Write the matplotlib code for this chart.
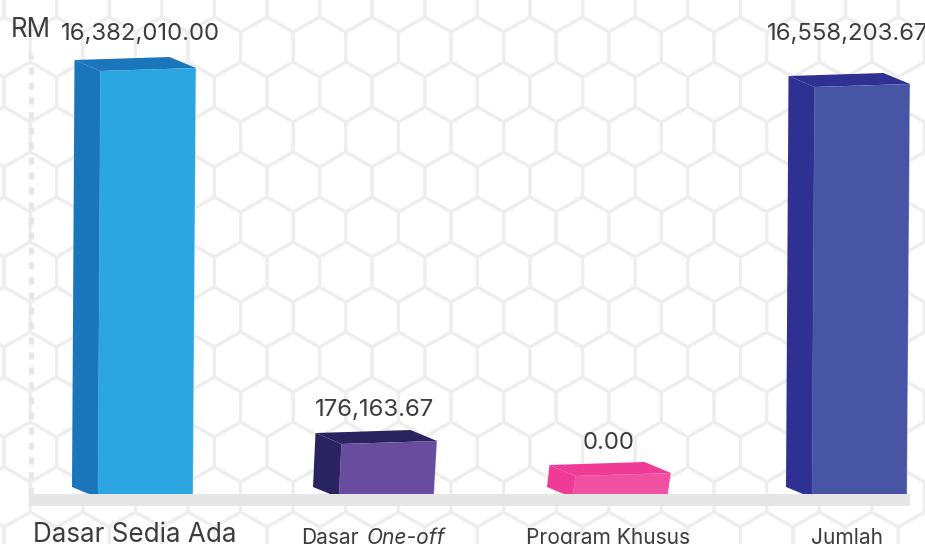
import numpy as np
import matplotlib
matplotlib.use("Agg")
import matplotlib.pyplot as plt
from matplotlib.patches import Polygon, Rectangle
from matplotlib.collections import LineCollection

# ---- data ----
categories = ["Dasar Sedia Ada", "Dasar One-off", "Program Khusus", "Jumlah"]
value_labels = ["16,382,010.00", "176,163.67", "0.00", "16,558,203.67"]
bar_heights = [423, 50, 18, 407]          # drawn front-face height (the original is not to scale)
unit_label = "RM"

front_colors = ["#2ba6e0", "#684d9f", "#f250a0", "#4854a4"]
dark_colors = ["#1a75bb", "#29235f", "#ef3a96", "#2e3192"]

# ---- layout (pixels) ----
W, H, BASE = 925, 544, 494
bar_left = [98, 339, 573, 812]
FW = 95
FONT = "Inter"
TXT = "#3c3c3c"

fig = plt.figure(figsize=(W / 100, H / 100), dpi=100, facecolor="white")
ax = fig.add_axes([0, 0, 1, 1])
ax.set_xlim(0, W)
ax.set_ylim(BASE - H, BASE)
ax.axis("off")

def py(p):
    return BASE - p

# hexagon background
hw, side, rise, pitch = 26.3, 30, 15, 45
segs = []
for j in range(-1, 14):
    cy = 92 + pitch * (j - 1)
    off = 30.3 if j % 2 == 1 else 3.9
    for k in range(-1, 19):
        cx = off + 2 * hw * k
        v = [(cx - hw, cy - side / 2), (cx, cy - side / 2 - rise), (cx + hw, cy - side / 2),
             (cx + hw, cy + side / 2), (cx, cy + side / 2 + rise), (cx - hw, cy + side / 2)]
        v = [(a, py(b)) for a, b in v]
        segs.append(v + [v[0]])
ax.add_collection(LineCollection(segs, colors="#eeeeee", linewidths=2.2, zorder=1))

# baseline band and dotted axis
ax.add_patch(Rectangle((30, py(506)), 880, 12, fc="#e6e6e6", ec="none", zorder=2))
ax.plot([30.5, 30.5], [0, py(55)], color="#e6e6e6", lw=3.6, ls=(0, (1.4, 1.6)), zorder=2, solid_capstyle="butt")

# bars
for x, h, fc, dc in zip(bar_left, bar_heights, front_colors, dark_colors):
    top = h
    tx = x + 2 + 0.5  # top of the front face leans right
    side_poly = [(x - 26, -0.0 + 7), (x - 9, 0), (x, 0), (tx, top), (tx - 26, top + 11)]
    top_poly = [(tx, top), (tx - 26, top + 11), (tx + 69, top + 14), (tx + FW + 0.5, top + 3)]
    front = [(x, 0), (x + FW, 0), (tx + FW + 0.5, top + 3), (tx, top)]
    ax.add_patch(Polygon(side_poly, fc=dc, ec="none", zorder=3))
    ax.add_patch(Polygon(top_poly, fc=dc, ec="none", zorder=3))
    ax.add_patch(Polygon(front, fc=fc, ec="none", zorder=4))
    ax.plot([x, tx], [0, top], color=fc, lw=0.6, alpha=.6, zorder=5)
    ax.plot([x + FW, tx + FW + 0.5], [0, top + 3], color="white", lw=0.6, alpha=.45, zorder=5)

def txt(x, p, s, px, ha="left", **kw):
    return ax.text(x, py(p), s, fontsize=px * 0.72, ha=ha, va="baseline", color=TXT,
                   family=FONT, zorder=6, **kw)

txt(11, 37, unit_label, 26)
txt(140.5, 40, value_labels[0], 24, ha="center")
txt(374.5, 416, value_labels[1], 24, ha="center")
txt(609, 449, value_labels[2], 24, ha="center")
txt(848, 40, value_labels[3], 24, ha="center")
txt(134.5, 542, categories[0], 26, ha="center")
txt(301, 544, "Dasar", 21)
txt(367, 544, "One-off", 21, style="italic")
txt(608.5, 544, categories[2], 21, ha="center")
txt(847.5, 544, categories[3], 21, ha="center")

fig.savefig("out.png", dpi=100, facecolor="white")
